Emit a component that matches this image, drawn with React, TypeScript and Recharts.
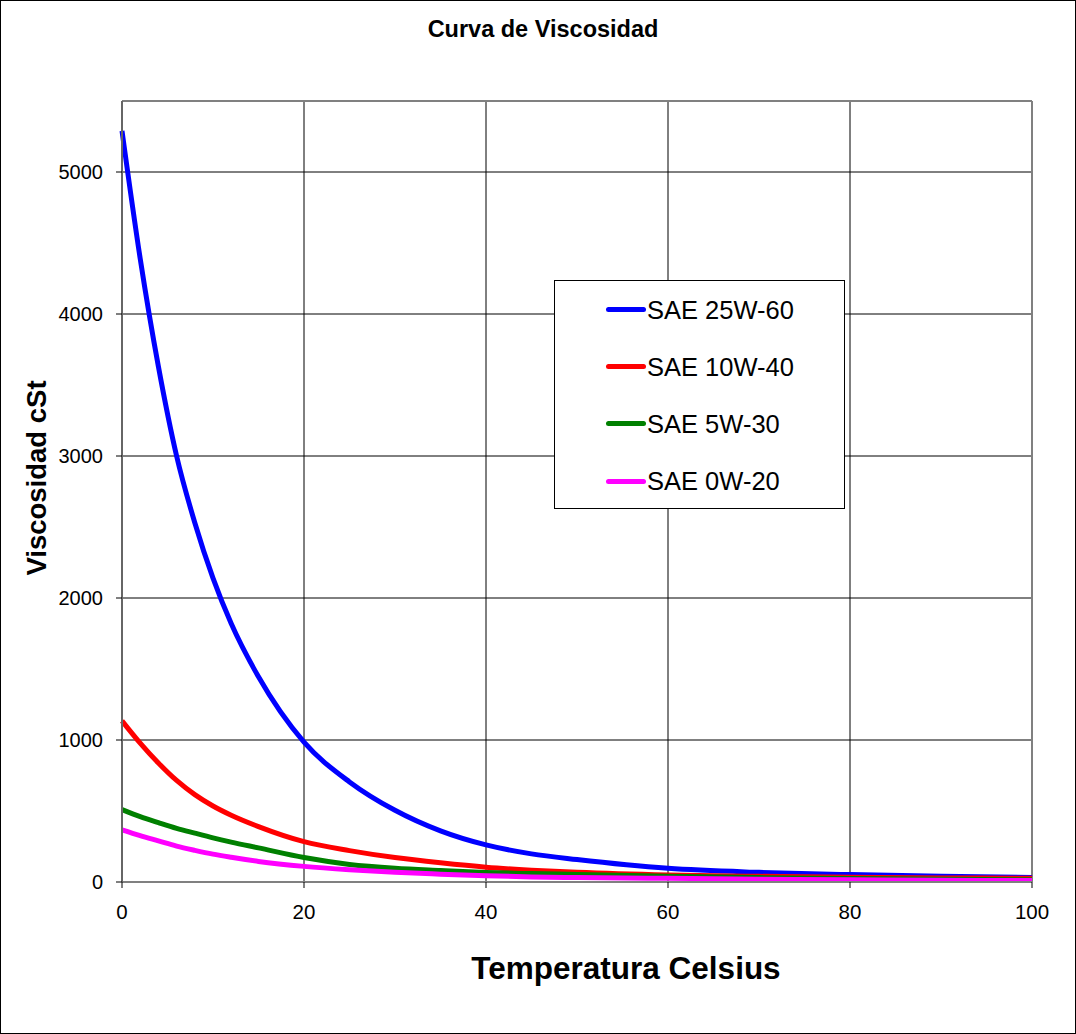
import React from 'react';
import { LineChart, Line, XAxis, YAxis, CartesianGrid, ReferenceLine, Legend } from 'recharts';

const temps = [0, 2, 4, 6, 8, 10, 12, 15, 20, 25, 30, 35, 40, 45, 50, 60, 70, 80, 90, 100];
const sae25w60 = [5290, 4390, 3630, 3000, 2530, 2140, 1820, 1445, 985, 705, 505, 360, 261, 198, 158, 96, 68, 52, 40, 32];
const sae10w40 = [1135, 978, 838, 715, 615, 535, 470, 390, 284, 221, 172, 135, 104, 83, 68, 49, 40, 33, 29, 26];
const sae5w30 = [510, 460, 418, 378, 344, 311, 281, 240, 172, 124, 97, 81, 67, 59, 53, 40, 31, 25, 20, 16];
const sae0w20 = [368, 327, 290, 253, 223, 196, 174, 145, 110, 86, 68, 55, 44, 36, 31, 26, 20, 15, 12, 10];

const seriesNames = ['SAE 25W-60', 'SAE 10W-40', 'SAE 5W-30', 'SAE 0W-20'];
const seriesColors = ['#0000FF', '#FF0000', '#008000', '#FF00FF'];
const seriesValues = [sae25w60, sae10w40, sae5w30, sae0w20];

const xTicks = [0, 20, 40, 60, 80, 100];
const yTicks = [0, 1000, 2000, 3000, 4000, 5000];

const chartTitle = 'Curva de Viscosidad';
const xTitle = 'Temperatura Celsius';
const yTitle = 'Viscosidad cSt';

const data = temps.map((t, i) => {
  const row: Record<string, number> = { t };
  seriesNames.forEach((n, k) => {
    row[n] = seriesValues[k][i];
  });
  return row;
});

const FONT = '"Liberation Sans", Arial, Helvetica, sans-serif';

const LegendBox = () => (
  <div
    style={{
      width: 291,
      height: 229,
      border: '1px solid #000',
      background: '#fff',
      boxSizing: 'border-box',
      position: 'relative',
      fontFamily: FONT,
    }}
  >
    {seriesNames.map((n, k) => (
      <div
        key={n}
        style={{
          position: 'absolute',
          left: 0,
          top: 28.5 + k * 57.2 - 15,
          height: 30,
          display: 'flex',
          alignItems: 'center',
        }}
      >
        <div
          style={{
            marginLeft: 51,
            width: 40,
            height: 5,
            borderRadius: 3,
            background: seriesColors[k],
          }}
        />
        <span style={{ marginLeft: 1, fontSize: 25.5, color: '#000', lineHeight: '30px' }}>{n}</span>
      </div>
    ))}
  </div>
);

export default function App() {
  return (
    <div
      style={{
        position: 'absolute',
        left: 0,
        top: 0,
        width: 1076,
        height: 1034,
        background: '#fff',
        fontFamily: FONT,
      }}
    >
      <LineChart
        width={1076}
        height={1034}
        data={data}
        margin={{ top: 101, right: 44, bottom: 92, left: 0 }}
        style={{ fontFamily: FONT }}
      >
        <CartesianGrid stroke="#000" strokeWidth={1} vertical horizontal />
        <XAxis
          dataKey="t"
          type="number"
          domain={[0, 100]}
          ticks={xTicks}
          height={60}
          tickSize={6}
          tickMargin={16}
          axisLine={{ stroke: '#808080', strokeWidth: 2 }}
          tickLine={{ stroke: '#000' }}
          tick={{ fill: '#000', fontSize: 20.5, fontFamily: FONT }}
          interval={0}
        />
        <YAxis
          type="number"
          domain={[0, 5500]}
          ticks={yTicks}
          width={122}
          tickSize={6}
          tickMargin={13}
          allowDataOverflow
          axisLine={{ stroke: '#666', strokeWidth: 2 }}
          tickLine={{ stroke: '#000' }}
          tick={{ fill: '#000', fontSize: 20, fontFamily: FONT }}
          interval={0}
        />
        <ReferenceLine y={5500} stroke="#808080" strokeWidth={2} />
        <ReferenceLine x={100} stroke="#808080" strokeWidth={2} />
        {seriesNames.map((n, k) => (
          <Line
            key={n}
            type="monotone"
            dataKey={n}
            stroke={seriesColors[k]}
            strokeWidth={5}
            dot={false}
            activeDot={false}
            isAnimationActive={false}
          />
        ))}
        <Legend
          layout="vertical"
          align="center"
          verticalAlign="middle"
          wrapperStyle={{ left: 554, top: 280, width: 291, height: 229 }}
          content={() => <LegendBox />}
        />
      </LineChart>
      <div
        style={{
          position: 'absolute',
          left: 0,
          top: 0,
          width: 1076,
          height: 1034,
          border: '1px solid #000',
          boxSizing: 'border-box',
          pointerEvents: 'none',
        }}
      />
      <div
        style={{
          position: 'absolute',
          left: 343,
          width: 400,
          top: 14,
          textAlign: 'center',
          fontWeight: 'bold',
          fontSize: 23.5,
          lineHeight: '30px',
          color: '#000',
        }}
      >
        {chartTitle}
      </div>
      <div
        style={{
          position: 'absolute',
          left: 426,
          width: 400,
          top: 948,
          textAlign: 'center',
          fontWeight: 'bold',
          fontSize: 31.5,
          lineHeight: '40px',
          color: '#000',
        }}
      >
        {xTitle}
      </div>
      <div
        style={{
          position: 'absolute',
          left: 37 - 150,
          width: 300,
          top: 478 - 20,
          height: 40,
          textAlign: 'center',
          fontWeight: 'bold',
          fontSize: 27.5,
          lineHeight: '40px',
          color: '#000',
          transform: 'rotate(-90deg)',
        }}
      >
        {yTitle}
      </div>
    </div>
  );
}
